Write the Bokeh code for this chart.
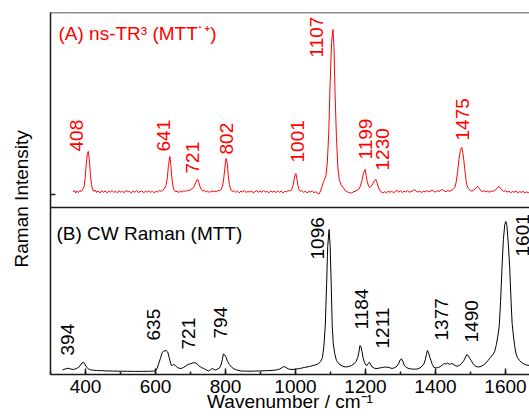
import numpy as np
from bokeh.plotting import figure
from bokeh.models import Range1d, Span, Label, FixedTicker, SingleIntervalTicker, ColumnDataSource
from bokeh.core.properties import value
from bokeh.embed import file_html
from bokeh.resources import INLINE

# ---------------------------------------------------------------- data
# (A) ns-TR3 spectrum of the radical cation: wavenumber (cm-1) / intensity (a.u.)
ns_wn = [365, 369, 372, 376, 380, 384, 388, 392, 396, 399, 402, 405, 408, 411, 414, 417, 420, 424, 428, 432,
         436, 441, 446, 451, 456, 461, 466, 471, 476, 481, 486, 491, 496, 501, 506, 511, 516, 521, 526, 531,
         536, 541, 546, 551, 556, 561, 566, 571, 576, 581, 586, 591, 596, 601, 606, 611, 616, 621, 626, 630,
         634, 637, 641, 644, 647, 650, 654, 658, 662, 666, 671, 676, 681, 686, 691, 696, 701, 706, 711, 715,
         718, 721, 724, 727, 731, 735, 739, 744, 749, 754, 759, 764, 769, 774, 779, 784, 788, 792, 795, 798,
         800, 802, 805, 808, 811, 815, 819, 824, 829, 834, 839, 844, 849, 854, 859, 864, 869, 874, 879, 884,
         889, 894, 899, 904, 909, 914, 919, 924, 929, 934, 939, 944, 949, 954, 959, 964, 969, 974, 979, 985,
         989, 993, 996, 999, 1001, 1004, 1007, 1010, 1014, 1018, 1023, 1028, 1033, 1038, 1043, 1048, 1053, 1058, 1063, 1067,
         1071, 1075, 1079, 1083, 1087, 1091, 1095, 1099, 1103, 1107, 1110, 1113, 1117, 1121, 1125, 1130, 1136, 1142, 1148, 1154,
         1160, 1165, 1170, 1175, 1180, 1185, 1190, 1194, 1197, 1199, 1202, 1205, 1209, 1213, 1217, 1222, 1226, 1230, 1233, 1236,
         1240, 1245, 1250, 1255, 1260, 1265, 1270, 1275, 1280, 1285, 1290, 1295, 1300, 1305, 1310, 1315, 1320, 1325, 1330, 1335,
         1340, 1345, 1350, 1355, 1360, 1365, 1370, 1375, 1380, 1385, 1390, 1395, 1400, 1405, 1410, 1415, 1420, 1425, 1430, 1435,
         1440, 1445, 1450, 1455, 1459, 1463, 1467, 1471, 1475, 1478, 1481, 1484, 1487, 1490, 1494, 1499, 1504, 1509, 1513, 1517,
         1521, 1525, 1529, 1534, 1539, 1544, 1549, 1554, 1559, 1564, 1569, 1574, 1578, 1582, 1586, 1590, 1595, 1600, 1605, 1610,
         1615, 1620, 1625, 1630, 1635, 1640, 1645, 1650, 1655, 1660, 1665, 1669]
ns_int = [0.5, 2.0, -0.5, 1.5, 0.0, 2.0, 1.0, 3.0, 6, 14, 28, 38, 41, 33, 18, 8, 3.5, 1.0, 2.5, 0.0,
          1.5, -0.5, 1.8, 0.2, 1.6, -0.3, 1.2, 0.4, 2.0, 0.0, 1.4, -0.4, 1.7, 0.3, 1.1, -0.2, 2.1, 0.6, 1.0, -0.5,
          1.5, 0.2, 1.9, 0.0, 0.8, 1.6, -0.3, 1.2, 0.4, 1.8, 0.1, 1.3, -0.2, 1.0, 0.5, 1.9, 1.2, 2.5, 4, 7,
          15, 27, 36, 27, 14, 6, 2.0, 0.5, 1.6, -0.2, 1.3, 0.5, 1.8, 1.0, 2.2, 2.0, 3.2, 4.0, 6.5, 10,
          12.5, 13, 10, 6, 3.0, 1.5, 2.2, 0.4, 1.5, 0.0, 1.8, 0.6, 1.4, 0.8, 2.0, 1.8, 3.5, 7, 14, 24,
          31, 34, 29, 17, 8, 3.0, 1.0, 1.8, 0.2, 1.4, -0.3, 1.2, 0.6, 1.9, 0.0, 1.1, 0.4, 1.6, -0.4, 0.9,
          1.7, 0.1, 1.4, 0.3, 2.0, 0.5, 1.0, -0.2, 1.5, 0.4, 1.2, 0.0, 1.6, 0.2, 1.3, -0.3, 1.0, 0.8, 1.8, 1.5,
          3.0, 7, 13, 18, 19, 14, 7, 3.0, 1.2, 1.8, 0.2, 1.3, -0.4, 1.0, 0.6, 1.5, -0.2, 0.8, -0.8, -1.5,
          1.0, 5, 10, 13, 17, 30, 60, 110, 150, 163, 145, 100, 55, 25, 13, 8, 5, 2.0, 0.5, 0.0,
          -0.5, 0.5, 1.2, 2.0, 3.0, 6, 12, 19, 22, 23, 17, 11, 6, 5, 6.5, 9.5, 12, 13, 10, 6,
          2.5, 0.5, -0.5, 0.8, -0.3, 1.2, 0.2, 1.4, -0.4, 1.0, 2.0, 0.4, 1.6, 0.0, 1.2, 0.5, 1.8, 0.2, 1.0, 1.6,
          3.0, 1.2, 0.4, 1.5, 0.0, 1.3, 0.5, 1.9, 0.8, 1.2, 2.5, 1.0, 0.5, 1.8, 1.0, 2.2, 3.0, 1.5, 0.8, 2.0,
          1.2, 2.0, 3.0, 5, 10, 20, 33, 42, 45, 40, 32, 22, 13, 7, 4, 2.0, 1.5, 2.5, 3.5, 5,
          6, 4, 2.0, 1.0, 1.8, 0.6, 1.4, 0.2, 1.5, 1.2, 2.0, 3.5, 5, 6, 4, 2.5, 1.0, 1.8, 0.4, 1.2,
          -0.2, 1.0, 0.3, 1.4, -0.3, 0.8, 0.2, 1.1, -0.5, 0.6, -0.2, 0.3]

# (B) CW Raman spectrum of the neutral molecule
cw_wn = [334, 342, 350, 358, 366, 374, 381, 386, 390, 394, 398, 403, 408, 414, 422, 432, 445, 460, 480, 500,
         520, 540, 560, 580, 595, 601, 605, 609, 614, 619, 624, 630, 635, 639, 643, 646, 649, 652, 655, 659,
         663, 668, 673, 680, 686, 693, 700, 707, 713, 719, 725, 731, 738, 745, 752, 757, 762, 767, 772, 778,
         784, 788, 791, 794, 798, 802, 806, 811, 817, 824, 832, 843, 855, 870, 885, 900, 915, 930, 945, 955,
         962, 968, 973, 980, 990, 1000, 1012, 1025, 1040, 1055, 1065, 1072, 1077, 1081, 1085, 1089, 1092, 1096, 1099, 1102,
         1105, 1108, 1112, 1117, 1124, 1133, 1143, 1152, 1160, 1167, 1173, 1178, 1181, 1184, 1187, 1190, 1193, 1197, 1201, 1204,
         1208, 1211, 1214, 1219, 1226, 1233, 1240, 1248, 1255, 1262, 1269, 1276, 1283, 1290, 1295, 1299, 1303, 1307, 1311, 1317,
         1324, 1332, 1340, 1348, 1355, 1362, 1367, 1371, 1374, 1377, 1380, 1384, 1387, 1391, 1395, 1401, 1408, 1414, 1420, 1425,
         1430, 1435, 1440, 1445, 1450, 1456, 1462, 1468, 1475, 1481, 1486, 1490, 1494, 1498, 1502, 1507, 1514, 1522, 1530, 1537,
         1544, 1550, 1557, 1564, 1569, 1574, 1578, 1582, 1586, 1590, 1594, 1598, 1601, 1604, 1608, 1612, 1616, 1619, 1622, 1626,
         1630, 1634, 1640, 1646, 1652, 1660, 1669]
cw_int = [1.5, 2.5, 3.3, 2.5, 2.0, 3.0, 4.3, 6.5, 8.5, 9.3, 7.5, 4.3, 2.8, 1.7, 1.3, 1.0, 0.8, 0.6, 0.4, 0.3,
          0.2, 0.1, 0.1, 0.2, 0.4, 1.0, 3.5, 7.7, 13, 19, 20.5, 21, 19.5, 14, 8.5, 6.0, 6.2, 7.2, 6.5, 5.0,
          4.0, 3.2, 3.0, 4.0, 5.3, 7.0, 7.8, 8.6, 8.8, 7.5, 5.5, 4.0, 3.0, 1.5, 0.5, 1.8, 3.0, 2.0, 1.5, 2.5,
          4.0, 7.5, 12, 17.5, 16.5, 14, 10, 7.0, 4.5, 2.7, 1.5, 0.6, 0.4, 0.3, 0.4, 0.6, 0.8, 1.0, 1.5, 2.5,
          4.0, 5.0, 4.0, 2.5, 2.0, 2.3, 3.0, 4.0, 5.0, 6.5, 7.7, 10, 14, 25, 45, 88, 125, 142, 125, 88,
          45, 28, 18, 11, 7.7, 5.5, 4.5, 5.0, 6.0, 7.7, 10, 14, 19, 26, 25, 20, 14, 9, 6.5, 6.0,
          8.0, 9.3, 7.5, 4.5, 3.2, 3.0, 3.5, 4.0, 4.5, 4.3, 3.8, 3.0, 3.8, 5.3, 8.0, 11.5, 12.7, 10, 6.0, 4.0,
          3.0, 2.5, 2.3, 2.5, 3.5, 5.5, 7.7, 12, 17, 21, 19, 14, 11, 7, 4.3, 3.5, 4.0, 5.0, 6.5, 8.0,
          7.5, 8.5, 7.0, 8.0, 7.5, 6.0, 5.3, 6.0, 8.0, 11, 14.5, 17, 15.5, 13, 11, 8.0, 5.3, 4.5, 5.0, 6.5,
          8.5, 11, 14, 17, 20, 27, 35, 45, 70, 104, 132, 147, 150, 146, 128, 104, 70, 48, 38, 26,
          18, 14, 11, 9, 7.7, 6.5, 6.0]

# assigned bands
ns_peaks = ["408", "641", "721", "802", "1001", "1107", "1199", "1230", "1475"]
cw_peaks = ["394", "635", "721", "794", "1096", "1184", "1211", "1377", "1490", "1601"]

# ---------------------------------------------------------------- layout
NS_OFFSET = 182      # baseline of the upper trace
CW_OFFSET = 3        # baseline of the lower trace
DIVIDER = 167        # separator between the two panels
Y_TOP = 362

# label anchors (wavenumber, height of the label foot)
ns_label_x = [374, 624, 706, 804, 1005, 1061, 1201, 1248, 1476]
ns_label_y = [223, 223, 201, 220, 212, 317, 215, 204, 234]
cw_label_x = [349, 594, 693, 787, 1063, 1189, 1249, 1416, 1503, 1649]
cw_label_y = [19, 34, 25, 36, 115, 45, 26, 34, 32, 118]

FONT = "Liberation Sans"
FS = "19px"
AXIS_COLOR = "#1a1a1a"

p = figure(width=529, height=416,
           x_range=Range1d(300, 1668.6), y_range=Range1d(0, Y_TOP),
           output_backend="svg", toolbar_location=None,
           min_border_left=50, min_border_right=0, min_border_top=12, min_border_bottom=42)
p.outline_line_color = None
p.xgrid.visible = False
p.ygrid.visible = False
p.background_fill_color = "white"
p.border_fill_color = "white"

# spectra
ns_src = ColumnDataSource(dict(x=ns_wn, y=[v + NS_OFFSET for v in ns_int]))
cw_src = ColumnDataSource(dict(x=cw_wn, y=[v + CW_OFFSET for v in cw_int]))
p.line("x", "y", source=ns_src, line_color="#ff0000", line_width=1)
p.line("x", "y", source=cw_src, line_color="black", line_width=1)

# band labels
p.text(x=ns_label_x, y=ns_label_y, text=ns_peaks, angle=np.pi / 2,
       text_align="left", text_baseline="middle",
       text_font=value(FONT), text_font_size=FS, text_color="#ff0000")
p.text(x=cw_label_x, y=cw_label_y, text=cw_peaks, angle=np.pi / 2,
       text_align="left", text_baseline="middle",
       text_font=value(FONT), text_font_size=FS, text_color="black")

# frame: top edge and panel separator
p.add_layout(Span(location=Y_TOP, dimension="width", line_color=AXIS_COLOR, line_width=1.5))
p.add_layout(Span(location=DIVIDER, dimension="width", line_color=AXIS_COLOR, line_width=1.5))

# x axis
xa = p.xaxis[0]
xa.ticker = SingleIntervalTicker(interval=200, num_minor_ticks=2)
xa.major_tick_in = 6
xa.major_tick_out = 0
xa.minor_tick_in = 3
xa.minor_tick_out = 0
xa.axis_line_color = AXIS_COLOR
xa.axis_line_width = 1.5
xa.major_tick_line_color = AXIS_COLOR
xa.major_tick_line_width = 1.5
xa.minor_tick_line_color = AXIS_COLOR
xa.minor_tick_line_width = 1.5
xa.major_label_text_font = FONT
xa.major_label_text_font_size = FS
xa.major_label_text_color = "black"
xa.major_label_standoff = 5
xa.axis_label = "Wavenumber / cm\u207b\u00b9"
xa.axis_label_text_font = FONT
xa.axis_label_text_font_size = FS
xa.axis_label_text_font_style = "normal"
xa.axis_label_text_color = "black"
xa.axis_label_standoff = -5

# y axis: no numbers, one short inward mark at the upper baseline
ya = p.yaxis[0]
ya.ticker = FixedTicker(ticks=[], minor_ticks=[NS_OFFSET - 2])
ya.major_tick_in = 0
ya.major_tick_out = 0
ya.minor_tick_in = 5
ya.minor_tick_out = 0
ya.axis_line_color = AXIS_COLOR
ya.axis_line_width = 1.5
ya.minor_tick_line_color = AXIS_COLOR
ya.minor_tick_line_width = 1.5
ya.axis_label = "Raman Intensity\u00a0\u00a0"
ya.axis_label_text_font = FONT
ya.axis_label_text_font_size = FS
ya.axis_label_text_font_style = "normal"
ya.axis_label_text_color = "black"
ya.axis_label_standoff = 19

# panel titles
p.add_layout(Label(x=8, y=340.7, x_units="screen", y_units="data",
                   text="(A) ns-TR\u00b3 (MTT\u02d9\u207a)", text_font=FONT, text_font_size=FS,
                   text_color="#ff0000", text_baseline="alphabetic"))
p.add_layout(Label(x=6, y=140.7, x_units="screen", y_units="data",
                   text="(B) CW Raman (MTT)", text_font=FONT, text_font_size=FS,
                   text_color="black", text_baseline="alphabetic"))

open("out.html", "w").write(file_html(p, INLINE))
